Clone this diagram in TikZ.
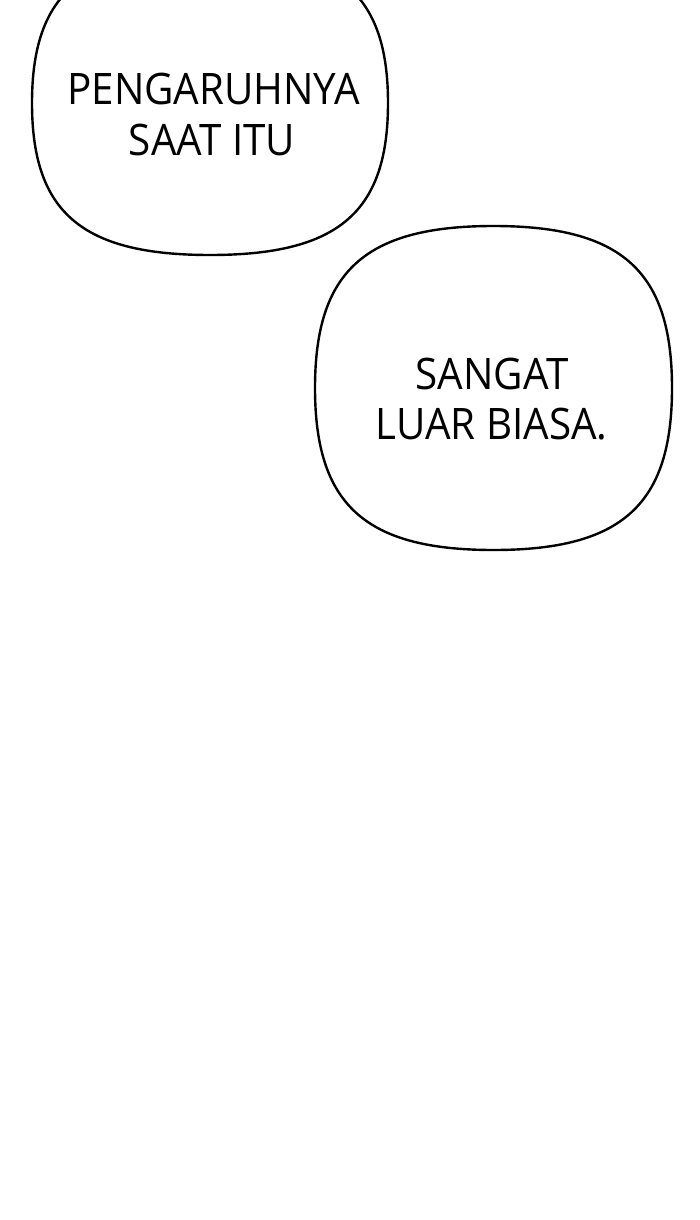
\documentclass[tikz,border=0pt]{standalone}
\usepackage{fontspec}
\newfontfamily\bubblefont{Open Sans}[FakeStretch=0.93]
\usetikzlibrary{positioning}

\tikzset{
  bubble/.style={draw=black,line width=2.4pt,fill=white},
  word/.style={font=\bubblefont\fontsize{43.4}{50}\selectfont,inner sep=0pt,anchor=base}
}

\begin{document}
\begin{tikzpicture}[x=1pt,y=-1pt]
    \useasboundingbox (0,0) rectangle (700,1220);
    \clip (0,0) rectangle (700,1220);
    \fill[white] (0,0) rectangle (700,1220);
    % the two balloons
    \foreach \cx/\cy/\a/\b in {210/103/178/152,493.5/388/178.5/162} {
      \draw[bubble] ({\cx+\a},\cy) .. controls +(0,{.72*\b}) and +({.72*\a},0) .. (\cx,{\cy+\b})
        .. controls +({-.72*\a},0) and +(0,{.72*\b}) .. ({\cx-\a},\cy)
        .. controls +(0,{-.72*\b}) and +({-.72*\a},0) .. (\cx,{\cy-\b})
        .. controls +({.72*\a},0) and +(0,{-.72*\b}) .. ({\cx+\a},\cy) -- cycle;
    }
    \node[word] (pengaruh) at (213.5,105) {PENGARUHNYA};
    \node[word] (saat)     at (212,155)   {SAAT ITU};
    \node[word] (sangat)   at (492,389)   {SANGAT};
    \node[word] (luar)     at (491.5,439) {LUAR BIASA.};
  \end{tikzpicture}
\end{document}
